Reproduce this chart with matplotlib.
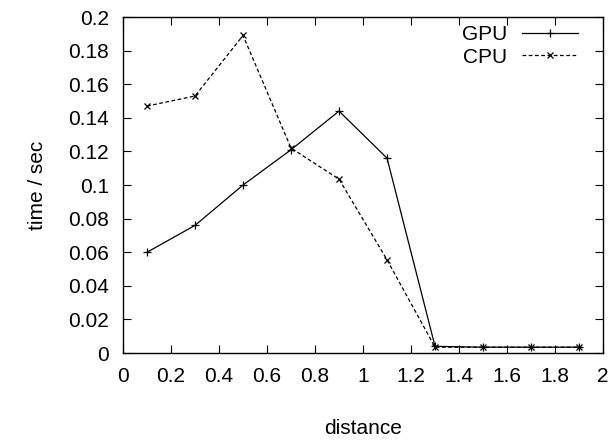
import matplotlib.pyplot as plt

plt.rcParams['font.family'] = ['Liberation Sans', 'DejaVu Sans']

distance = [0.1, 0.3, 0.5, 0.7, 0.9, 1.1, 1.3, 1.5, 1.7, 1.9]
gpu = [0.060, 0.076, 0.100, 0.121, 0.144, 0.116, 0.004, 0.0035, 0.0035, 0.0035]
cpu = [0.147, 0.153, 0.189, 0.122, 0.1035, 0.0555, 0.0035, 0.0035, 0.0035, 0.0035]

xticks = [0, 0.2, 0.4, 0.6, 0.8, 1, 1.2, 1.4, 1.6, 1.8, 2]
xlabels = ["0", "0.2", "0.4", "0.6", "0.8", "1", "1.2", "1.4", "1.6", "1.8", "2"]
yticks = [0, 0.02, 0.04, 0.06, 0.08, 0.1, 0.12, 0.14, 0.16, 0.18, 0.2]
ylabels = ["0", "0.02", "0.04", "0.06", "0.08", "0.1", "0.12", "0.14", "0.16", "0.18", "0.2"]

fig = plt.figure(figsize=(6.16, 4.43), dpi=100)
ax = fig.add_axes([0.1997, 0.203, 0.7793, 0.7586])

ax.plot(distance, gpu, color='black', lw=0.9, linestyle='-', marker='+', markersize=6, mew=0.9, label='GPU')
ax.plot(distance, cpu, color='black', lw=0.9, linestyle=(0, (3, 2)), marker='x', markersize=5, mew=0.9, label='CPU')

ax.set_xlim(0, 2)
ax.set_ylim(0, 0.2)
ax.set_xticks(xticks)
ax.set_xticklabels(xlabels)
ax.set_yticks(yticks)
ax.set_yticklabels(ylabels)
ax.tick_params(direction='in', top=True, right=True, length=6, width=0.8, labelsize=15, pad=10)
for s in ax.spines.values():
    s.set_linewidth(1.0)

ax.set_xlabel("distance", fontsize=15, labelpad=24)
ax.set_ylabel("time / sec", fontsize=15, labelpad=15)

leg = ax.legend(loc='upper right', bbox_to_anchor=(0.948, 0.975), frameon=False, markerfirst=False,
                fontsize=15, numpoints=1, handlelength=2.7, borderaxespad=0, borderpad=0,
                labelspacing=0.15, handletextpad=0.7)

fig.savefig('out.png', dpi=100)
